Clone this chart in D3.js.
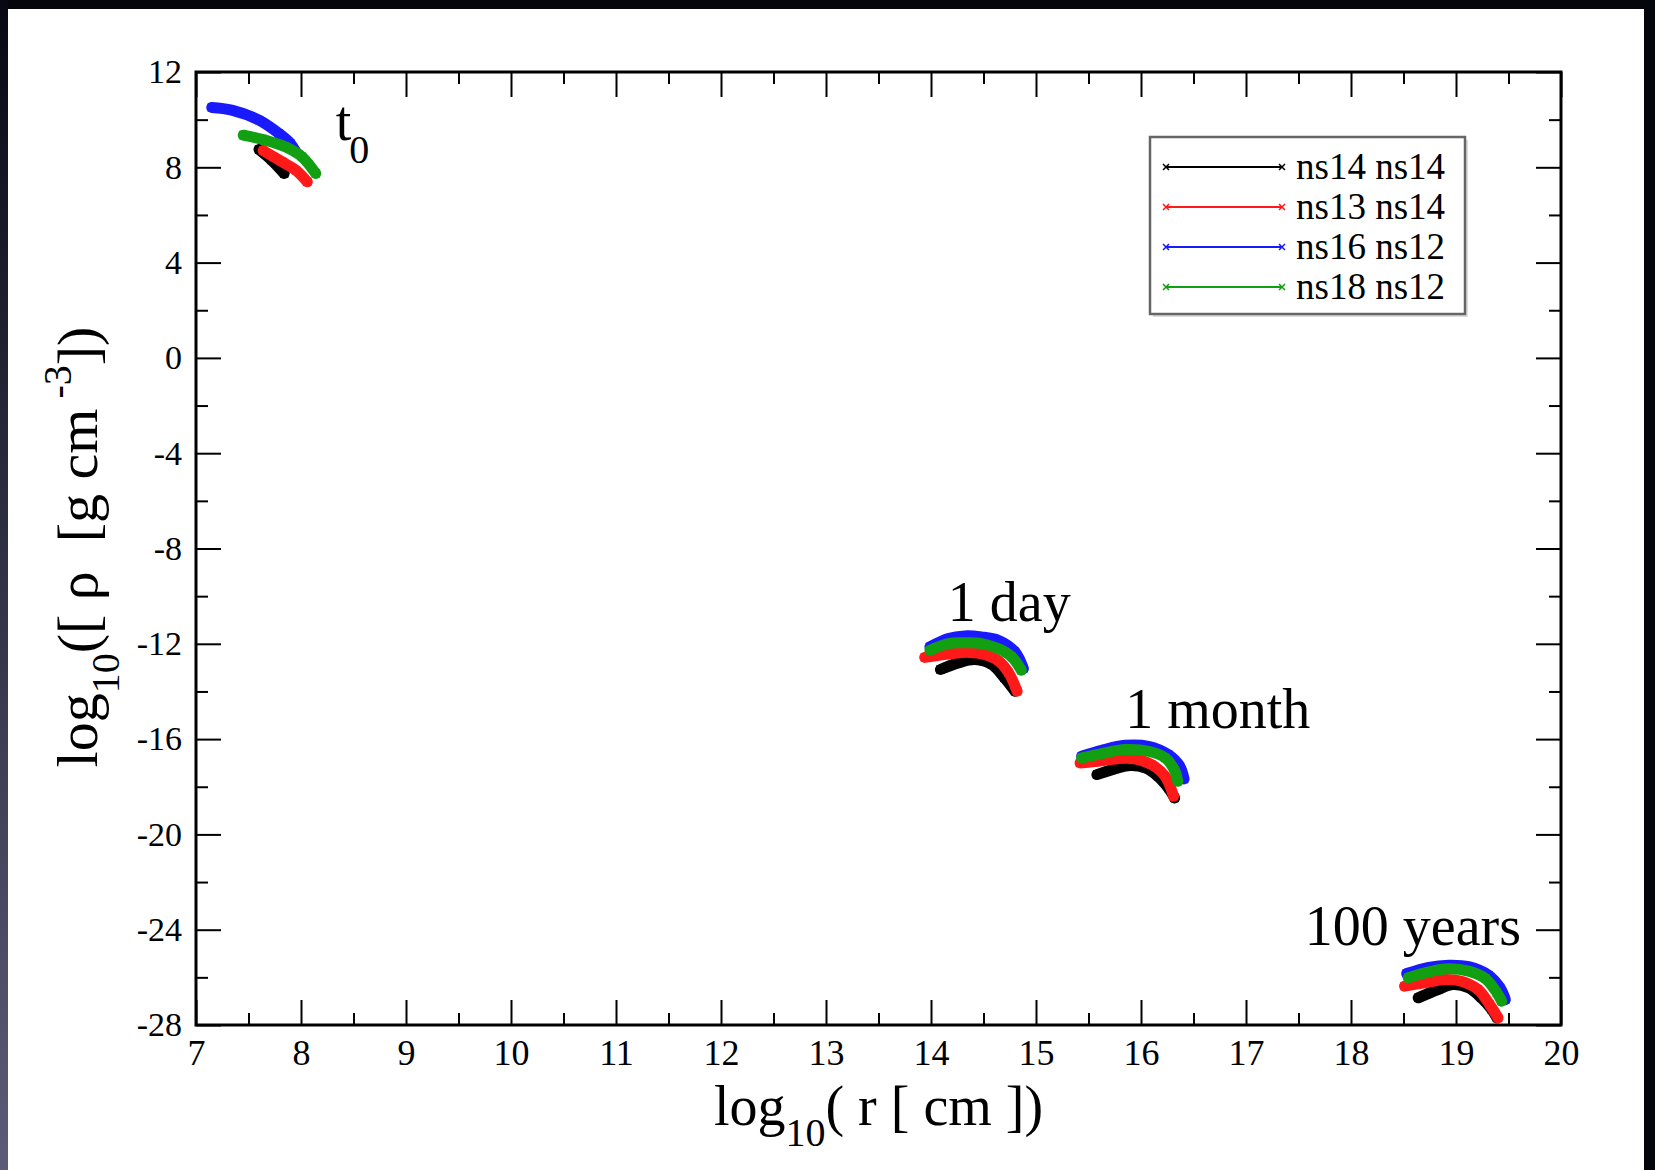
<!DOCTYPE html>
<html>
<head>
<meta charset="utf-8">
<script src="https://cdn.jsdelivr.net/npm/d3@7"></script>
<style>
  html, body { margin: 0; padding: 0; background: #fff; }
  svg { display: block; }
  text { font-family: "Liberation Serif", "Times New Roman", "DejaVu Serif", serif; fill: #000; }
</style>
</head>
<body>
<svg id="chart" width="1655" height="1170"></svg>
<script>
// Density profiles log10(rho) vs log10(r) for four binary neutron-star mass pairs
// at four epochs after merger.

const seriesNames = ["ns14 ns14", "ns13 ns14", "ns16 ns12", "ns18 ns12"];

// epoch t0
const t0_ns14ns14 = [[7.60, 8.75], [7.72, 8.30], [7.84, 7.74]];
const t0_ns13ns14 = [[7.64, 8.70], [7.82, 8.23], [7.95, 7.88], [8.06, 7.39]];
const t0_ns16ns12 = [[7.15, 10.51], [7.34, 10.40], [7.60, 9.98], [7.79, 9.42], [7.90, 9.00], [7.95, 8.65]];
const t0_ns18ns12 = [[7.45, 9.35], [7.66, 9.14], [7.85, 8.86], [8.01, 8.44], [8.14, 7.74]];

// epoch 1 day
const day_ns14ns14 = [[14.09, -13.08], [14.26, -12.80], [14.42, -12.66], [14.58, -12.87], [14.70, -13.43], [14.80, -13.99]];
const day_ns13ns14 = [[13.94, -12.57], [14.165, -12.43], [14.36, -12.36], [14.51, -12.45], [14.64, -12.71], [14.74, -13.22], [14.82, -13.99]];
const day_ns16ns12 = [[13.99, -12.13], [14.165, -11.78], [14.32, -11.67], [14.48, -11.71], [14.64, -11.85], [14.80, -12.34], [14.88, -13.04]];
const day_ns18ns12 = [[13.99, -12.27], [14.165, -11.99], [14.32, -11.96], [14.48, -11.99], [14.64, -12.20], [14.77, -12.55], [14.86, -13.11]];

// epoch 1 month
const month_ns14ns14 = [[15.58, -17.49], [15.75, -17.25], [15.90, -17.11], [16.04, -17.21], [16.16, -17.56], [16.26, -18.05], [16.32, -18.47]];
const month_ns13ns14 = [[15.42, -17.00], [15.59, -16.93], [15.78, -16.82], [15.94, -16.83], [16.10, -17.07], [16.23, -17.56], [16.31, -18.40]];
const month_ns16ns12 = [[15.435, -16.72], [15.625, -16.47], [15.848, -16.26], [16.07, -16.30], [16.26, -16.65], [16.37, -17.14], [16.41, -17.67]];
const month_ns18ns12 = [[15.435, -16.79], [15.625, -16.61], [15.848, -16.44], [16.07, -16.51], [16.23, -16.79], [16.32, -17.31], [16.35, -17.77]];

// epoch 100 years
const cent_ns14ns14 = [[18.64, -26.86], [18.83, -26.51], [18.97, -26.30], [19.12, -26.44], [19.24, -26.86], [19.34, -27.35], [19.39, -27.70]];
const cent_ns13ns14 = [[18.51, -26.37], [18.70, -26.23], [18.895, -26.09], [19.05, -26.16], [19.21, -26.51], [19.32, -27.14], [19.40, -27.70]];
const cent_ns16ns12 = [[18.53, -25.84], [18.74, -25.58], [18.93, -25.49], [19.12, -25.55], [19.31, -25.91], [19.42, -26.44], [19.47, -26.93]];
const cent_ns18ns12 = [[18.545, -26.02], [18.74, -25.77], [18.93, -25.64], [19.12, -25.74], [19.28, -26.05], [19.39, -26.65], [19.435, -27.00]];

// epoch labels: text, anchor x (log r), baseline y (log rho)
const epochLabels = ["1 day", "1 month", "100 years"];
const epochLabelX = [14.16, 15.85, 17.56];
const epochLabelY = [-11.03, -15.52, -24.66];
const t0LabelPos = [8.33, 9.15];

// axis ticks
const xTicks = [7, 8, 9, 10, 11, 12, 13, 14, 15, 16, 17, 18, 19, 20];
const yTicks = [12, 8, 4, 0, -4, -8, -12, -16, -20, -24, -28];

const colors = ["#000000", "#ff1a1a", "#1a1aff", "#12a012"];

const runs = [
  [t0_ns14ns14, t0_ns13ns14, t0_ns16ns12, t0_ns18ns12],
  [day_ns14ns14, day_ns13ns14, day_ns16ns12, day_ns18ns12],
  [month_ns14ns14, month_ns13ns14, month_ns16ns12, month_ns18ns12],
  [cent_ns14ns14, cent_ns13ns14, cent_ns16ns12, cent_ns18ns12]
];

const SERIF = "Liberation Serif, Times New Roman, serif";
const svg = d3.select("#chart");
const W = 1655, H = 1170;
const plot = { left: 196, right: 1561, top: 72, bottom: 1025 };

// page background and dark edge bands
const defs = svg.append("defs");
const grad = defs.append("linearGradient").attr("id", "edgeGrad")
  .attr("x1", 0).attr("y1", 0).attr("x2", 0).attr("y2", 1);
grad.append("stop").attr("offset", "0%").attr("stop-color", "#080814");
grad.append("stop").attr("offset", "100%").attr("stop-color", "#5c5c78");

svg.append("rect").attr("width", W).attr("height", H).attr("fill", "#fff");
svg.append("rect").attr("x", 0).attr("y", 0).attr("width", W).attr("height", 9).attr("fill", "#05050c");
svg.append("rect").attr("x", 0).attr("y", 0).attr("width", 8).attr("height", H).attr("fill", "url(#edgeGrad)");
svg.append("rect").attr("x", W - 11).attr("y", 0).attr("width", 11).attr("height", H).attr("fill", "#05050c");

const x = d3.scaleLinear().domain([7, 20]).range([plot.left, plot.right]);
const y = d3.scaleLinear().domain([-28, 12]).range([plot.bottom, plot.top]);

const minorX = d3.range(7.5, 20, 1);
const minorY = d3.range(-26, 12, 4);

function styleAxis(g) {
  g.attr("font-family", SERIF);
  g.select(".domain").remove();
  g.selectAll(".tick line").attr("stroke", "#000").attr("stroke-width", 2);
}

// bottom axis: labelled major ticks + minor ticks, pointing inward
svg.append("g").attr("transform", `translate(0,${plot.bottom})`)
  .call(d3.axisBottom(x).tickValues(xTicks).tickFormat(d3.format("d")).tickSize(-25).tickPadding(14))
  .call(styleAxis)
  .call(g => g.selectAll("text").attr("font-size", 36).attr("font-family", SERIF));
svg.append("g").attr("transform", `translate(0,${plot.bottom})`)
  .call(d3.axisBottom(x).tickValues(minorX).tickFormat("").tickSize(-12))
  .call(styleAxis);

// top axis ticks
svg.append("g").attr("transform", `translate(0,${plot.top})`)
  .call(d3.axisTop(x).tickValues(xTicks).tickFormat("").tickSize(-25))
  .call(styleAxis);
svg.append("g").attr("transform", `translate(0,${plot.top})`)
  .call(d3.axisTop(x).tickValues(minorX).tickFormat("").tickSize(-12))
  .call(styleAxis);

// left axis
svg.append("g").attr("transform", `translate(${plot.left},0)`)
  .call(d3.axisLeft(y).tickValues(yTicks).tickFormat(d => String(d)).tickSize(-25).tickPadding(14))
  .call(styleAxis)
  .call(g => g.selectAll("text").attr("font-size", 34).attr("font-family", SERIF));
svg.append("g").attr("transform", `translate(${plot.left},0)`)
  .call(d3.axisLeft(y).tickValues(minorY).tickFormat("").tickSize(-12))
  .call(styleAxis);

// right axis ticks
svg.append("g").attr("transform", `translate(${plot.right},0)`)
  .call(d3.axisRight(y).tickValues(yTicks).tickFormat("").tickSize(-25))
  .call(styleAxis);
svg.append("g").attr("transform", `translate(${plot.right},0)`)
  .call(d3.axisRight(y).tickValues(minorY).tickFormat("").tickSize(-12))
  .call(styleAxis);

// data bands
const line = d3.line().x(d => x(d[0])).y(d => y(d[1])).curve(d3.curveCatmullRom.alpha(0.5));
const dataG = svg.append("g");
runs.forEach(epoch => {
  epoch.forEach((pts, si) => {
    dataG.append("path").datum(pts)
      .attr("d", line)
      .attr("fill", "none")
      .attr("stroke", colors[si])
      .attr("stroke-width", 11)
      .attr("stroke-linecap", "round")
      .attr("stroke-linejoin", "round");
    dataG.selectAll(null).data(pts).enter().append("path")
      .attr("d", d => {
        const cx = x(d[0]), cy = y(d[1]), s = 4;
        return `M${cx - s},${cy - s}L${cx + s},${cy + s}M${cx - s},${cy + s}L${cx + s},${cy - s}`;
      })
      .attr("stroke", colors[si])
      .attr("stroke-width", 1.5);
  });
});

// plot frame
svg.append("rect")
  .attr("x", plot.left).attr("y", plot.top)
  .attr("width", plot.right - plot.left).attr("height", plot.bottom - plot.top)
  .attr("fill", "none").attr("stroke", "#000").attr("stroke-width", 3);

// epoch annotations
const t0 = svg.append("text").attr("x", x(t0LabelPos[0])).attr("y", y(t0LabelPos[1]))
  .attr("font-size", 56).attr("font-family", SERIF);
t0.append("tspan").text("t");
t0.append("tspan").attr("font-size", 40).attr("dy", 23).attr("dx", -2).text("0");

epochLabels.forEach((lab, i) => {
  svg.append("text").attr("x", x(epochLabelX[i])).attr("y", y(epochLabelY[i]))
    .attr("font-size", 56).attr("font-family", SERIF).text(lab);
});

// axis titles
const xt = svg.append("text").attr("x", (plot.left + plot.right) / 2).attr("y", 1125)
  .attr("text-anchor", "middle").attr("font-size", 56).attr("font-family", SERIF);
xt.append("tspan").text("log");
xt.append("tspan").attr("font-size", 40).attr("dy", 21).text("10");
xt.append("tspan").attr("dy", -21).text("( r [ cm ])");

const yt = svg.append("text").attr("transform", "translate(97,547) rotate(-90)")
  .attr("text-anchor", "middle").attr("font-size", 58).attr("font-family", SERIF)
  .attr("xml:space", "preserve").style("white-space", "pre");
yt.append("tspan").text("log");
yt.append("tspan").attr("font-size", 40).attr("dy", 22).text("10");
yt.append("tspan").attr("dy", -22).text("([ ρ  [g cm");
yt.append("tspan").attr("font-size", 40).attr("dy", -26).text(" -3");
yt.append("tspan").attr("dy", 26).text("])");

// legend
const leg = svg.append("g").attr("transform", "translate(1150,137)");
leg.append("rect").attr("x", 3).attr("y", 3).attr("width", 315).attr("height", 177)
  .attr("fill", "#bbb").attr("opacity", 0.5);
leg.append("rect").attr("width", 315).attr("height", 177)
  .attr("fill", "#fff").attr("stroke", "#666").attr("stroke-width", 2.5);
seriesNames.forEach((name, i) => {
  const ly = 30 + i * 40;
  leg.append("line").attr("x1", 16).attr("x2", 132).attr("y1", ly).attr("y2", ly)
    .attr("stroke", colors[i]).attr("stroke-width", 2);
  [16, 132].forEach(mx => {
    leg.append("path")
      .attr("d", `M${mx - 3},${ly - 3}L${mx + 3},${ly + 3}M${mx - 3},${ly + 3}L${mx + 3},${ly - 3}`)
      .attr("stroke", colors[i]).attr("stroke-width", 1.5);
  });
  leg.append("text").attr("x", 146).attr("y", ly + 12).attr("font-size", 37)
    .attr("font-family", SERIF).text(name);
});
</script>
</body>
</html>
